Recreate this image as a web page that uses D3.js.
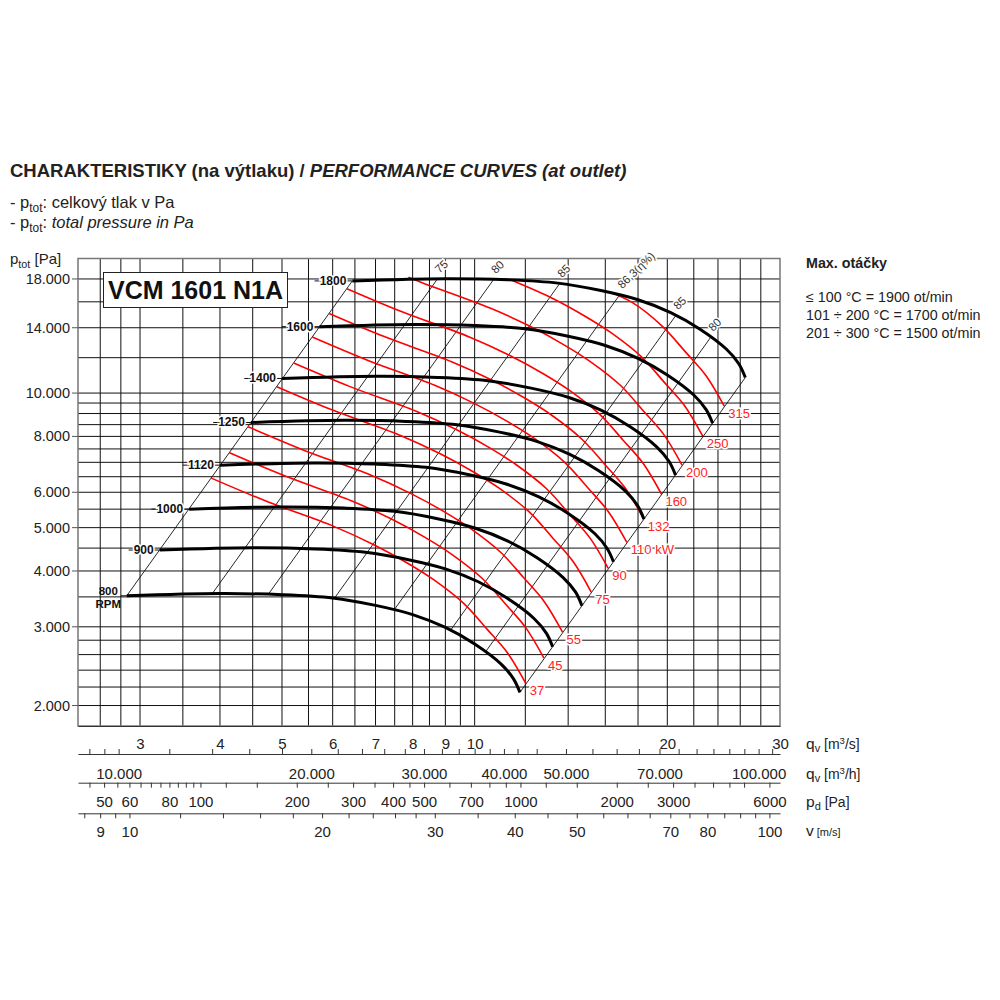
<!DOCTYPE html>
<html>
<head>
<meta charset="utf-8">
<script src="https://cdn.jsdelivr.net/npm/d3@7"></script>
<style>
body { margin: 0; background: #fff; }
text { font-family: "Liberation Sans", Arial, sans-serif; }
</style>
</head>
<body>
<div id="chart"></div>
<script>
// fan curves per speed: [q m3/s, ptot Pa]
var curve800 = [[2.86,3520],[4,3560],[5,3540],[6,3480],[7,3350],[8,3195],[9,2990],[10,2745],[11,2475],[11.5,2295],[11.77,2140]];
var curve900 = [[3.22,4455],[4.5,4506],[5.63,4480],[6.75,4404],[7.88,4240],[9,4044],[10.13,3784],[11.25,3474],[12.38,3132],[12.94,2905],[13.24,2708]];
var curve1000 = [[3.58,5500],[5,5563],[6.25,5531],[7.5,5438],[8.75,5234],[10,4992],[11.25,4672],[12.5,4289],[13.75,3867],[14.38,3586],[14.71,3344]];
var curve1120 = [[4.0,6899],[5.6,6978],[7.0,6938],[8.4,6821],[9.8,6566],[11.2,6262],[12.6,5860],[14,5380],[15.4,4851],[16.1,4498],[16.48,4194]];
var curve1250 = [[4.47,8594],[6.25,8691],[7.81,8643],[9.38,8496],[10.94,8179],[12.5,7800],[14.06,7300],[15.63,6702],[17.19,6043],[17.97,5603],[18.39,5225]];
var curve1400 = [[5.0,10780],[7,10903],[8.75,10841],[10.5,10658],[12.25,10259],[14,9785],[15.75,9157],[17.5,8407],[19.25,7580],[20.13,7028],[20.6,6554]];
var curve1600 = [[5.72,14080],[8,14240],[10,14160],[12,13920],[14,13400],[16,12780],[18,11960],[20,10980],[22,9900],[23,9180],[23.54,8560]];
var curve1800 = [[6.44,17820],[9,18023],[11.25,17921],[13.5,17618],[15.75,16959],[18,16175],[20.25,15137],[22.5,13897],[24.75,12530],[25.88,11618],[26.48,10834]];
var speeds = [800, 900, 1000, 1120, 1250, 1400, 1600, 1800];
var fanCurves = [curve800, curve900, curve1000, curve1120, curve1250, curve1400, curve1600, curve1800];

// shaft power lines (kW)
var power37 = [[3.877,6453],[4.738,5721],[6.023,5033],[6.956,4580],[7.847,4169],[8.627,3825],[9.622,3381],[10.47,2957],[11.25,2625],[12.02,2241]];
var power45 = [[4.139,7354],[5.058,6520],[6.43,5736],[7.426,5219],[8.377,4751],[9.209,4359],[10.27,3853],[11.18,3370],[12.01,2991],[12.83,2554]];
var power55 = [[4.425,8406],[5.407,7452],[6.874,6556],[7.939,5966],[8.956,5431],[9.846,4982],[10.98,4404],[11.95,3852],[12.84,3419],[13.72,2919]];
var power75 = [[4.907,10336],[5.996,9163],[7.623,8061],[8.804,7336],[9.931,6678],[10.92,6127],[12.18,5415],[13.25,4736],[14.24,4205],[15.21,3589]];
var power90 = [[5.215,11675],[6.373,10351],[8.102,9106],[9.357,8287],[10.56,7543],[11.6,6921],[12.94,6117],[14.08,5350],[15.13,4749],[16.17,4055]];
var power110 = [[5.575,13344],[6.813,11830],[8.661,10408],[10.0,9471],[11.28,8621],[12.41,7910],[13.84,6992],[15.06,6115],[16.18,5428],[17.29,4634]];
var power132 = [[5.924,15068],[7.24,13359],[9.204,11753],[10.63,10695],[11.99,9735],[13.18,8932],[14.7,7895],[16.0,6905],[17.19,6130],[18.37,5233]];
var power160 = [[6.315,17122],[7.718,15180],[9.811,13354],[11.33,12152],[12.78,11062],[14.05,10149],[15.67,8971],[17.06,7846],[18.33,6965],[19.58,5946]];
var power200 = [[7.88,18150],[8.314,17617],[10.57,15498],[12.21,14103],[13.77,12838],[15.14,11778],[16.89,10411],[18.37,9106],[19.74,8083],[21.09,6901]];
var power250 = [[11.3,18000],[13.15,16365],[14.83,14897],[16.31,13668],[18.19,12081],[19.79,10566],[21.27,9380],[22.72,8008]];
var power315 = [[16.2,16850],[17.62,15953],[19.65,14101],[21.38,12333],[22.98,10948],[24.55,9346]];
var powerLines = [power37, power45, power55, power75, power90, power110, power132, power160, power200, power250, power315];
var powerLabels = ["37", "45", "55", "75", "90", "110 kW", "132", "160", "200", "250", "315"];

// efficiency lines, from 800 rpm curve up to 1800 rpm curve
var effLabels = ["75", "80", "85", "86,3(\u03b7%)", "85", "80"];
var effBottom = [[3.89,3558],[4.76,3548],[6.04,3478],[7.5,3287],[9.17,2948],[10.4,2637]];
var effTop = [[8.75,18012],[10.71,17962],[13.59,17607],[16.88,16640],[20.63,14924],[23.4,13350]];
var leftEdge = [[2.86,3520],[6.44,17820]];
var rightEdge = [[11.77,2140],[26.48,10834]];

// grid and axes
var qGrid = [2.6,2.8,3,3.5,4,4.5,5,5.5,6,6.5,7,7.5,8,8.5,9,9.5,10,12,14,16,18,20,22,24,26,28];
var pGrid = [2000,2200,2400,2600,2800,3000,3500,4000,4500,5000,5500,6000,6500,7000,7500,8000,8500,9000,9500,10000,12000,14000,16000,18000];
var qLabels = [3,4,5,6,7,8,9,10,20,30];
var pLabels = [2000,3000,4000,5000,6000,8000,10000,14000,18000];
var qhTicks = [9000,9500,10000,12000,14000,16000,18000,20000,22000,24000,26000,28000,30000,32000,34000,36000,38000,40000,42000,45000,50000,55000,60000,65000,70000,75000,80000,85000,90000,95000,100000,105000];
var qhLabels = [10000,20000,30000,40000,50000,70000,100000];
var pdTicks = [45,50,55,60,65,70,75,80,85,90,95,100,120,150,200,250,300,350,400,450,500,600,700,800,900,1000,1200,1500,2000,2500,3000,3500,4000,4500,5000,6000];
var pdLabels = [50,60,80,100,200,300,400,500,700,1000,2000,3000,6000];
var vTicks = [8.5,9,9.5,10,12,14,16,18,20,22,24,26,28,30,35,40,45,50,55,60,65,70,75,80,85,90,95,100];
var vLabels = [9,10,20,30,40,50,70,80,100];

var ductArea = 0.2888; // m2, outlet
var airDensity = 1.2;

var svg = d3.select("#chart").append("svg").attr("width", 1000).attr("height", 1000);

var x = d3.scaleLog().domain([2.4, 30]).range([78, 780]);
var y = d3.scaleLog().domain([1800, 20000]).range([726, 258.5]);

var fmt = d3.formatLocale({decimal: ",", thousands: ".", grouping: [3], currency: ["", ""]}).format(",");

var line = d3.line().x(d => x(d[0])).y(d => y(d[1])).curve(d3.curveCatmullRom.alpha(0.5));
var straight = d3.line().x(d => x(d[0])).y(d => y(d[1]));

// grid
var grid = svg.append("g").attr("stroke", "#111").attr("stroke-width", 1);
grid.selectAll(".vg").data(qGrid).enter().append("line")
    .attr("x1", d => x(d)).attr("x2", d => x(d))
    .attr("y1", y(20000)).attr("y2", y(1800));
grid.selectAll(".hg").data(pGrid).enter().append("line")
    .attr("x1", x(2.4)).attr("x2", x(30))
    .attr("y1", d => y(d)).attr("y2", d => y(d));

// frame
svg.append("rect").attr("x", x(2.4)).attr("y", y(20000))
    .attr("width", x(30) - x(2.4)).attr("height", y(1800) - y(20000))
    .attr("fill", "none").attr("stroke", "#777").attr("stroke-width", 1.5);

// y axis labels
svg.selectAll(".ytick").data(pLabels).enter().append("line")
    .attr("x1", 72).attr("x2", 78).attr("y1", d => y(d)).attr("y2", d => y(d))
    .attr("stroke", "#555");
svg.selectAll(".ylab").data(pLabels).enter().append("text")
    .attr("x", 70).attr("y", d => y(d) + 5)
    .attr("text-anchor", "end").attr("font-size", 14.5).attr("fill", "#222")
    .text(d => fmt(d));

// efficiency lines and boundaries
var eff = svg.append("g").attr("stroke", "#111").attr("stroke-width", 0.9).attr("fill", "none");
effBottom.forEach(function(b, i) {
    eff.append("path").attr("d", straight([b, effTop[i]]));
});
eff.append("path").attr("d", straight(leftEdge));
eff.append("path").attr("d", straight(rightEdge));

effTop.forEach(function(t, i) {
    svg.append("text")
        .attr("transform", `translate(${x(t[0]) + 2}, ${y(t[1]) - 5}) rotate(-44)`)
        .attr("font-size", 11.5).attr("fill", "#333")
        .attr("stroke", "#fff").attr("stroke-width", 3).attr("paint-order", "stroke")
        .text(effLabels[i]);
});

// power lines
powerLines.forEach(function(pl, i) {
    svg.append("path").attr("d", line(pl))
        .attr("fill", "none").attr("stroke", "#f00").attr("stroke-width", 1.6);
    var end = pl[pl.length - 1];
    svg.append("text")
        .attr("x", x(end[0]) + 4).attr("y", y(end[1]) + 12)
        .attr("font-size", 13).attr("fill", "#f22")
        .attr("stroke", "#fff").attr("stroke-width", 3).attr("paint-order", "stroke")
        .text(powerLabels[i]);
});

// fan curves with speed labels
fanCurves.forEach(function(c, i) {
    var sx = x(c[0][0]), sy = y(c[0][1]);
    if (speeds[i] == 800) {
        svg.append("line").attr("x1", sx - 6).attr("x2", sx).attr("y1", sy).attr("y2", sy).attr("stroke", "#111");
        svg.append("text").attr("x", sx - 18.5).attr("y", sy - 1).attr("text-anchor", "middle")
            .attr("font-size", 11.5).attr("font-weight", "bold").attr("fill", "#111").text("800");
        svg.append("text").attr("x", sx - 18.5).attr("y", sy + 12).attr("text-anchor", "middle")
            .attr("font-size", 11.5).attr("font-weight", "bold").attr("fill", "#111").text("RPM");
    } else {
        var lab = svg.append("text").attr("x", sx - 6).attr("y", sy + 4).attr("text-anchor", "end")
            .attr("font-size", 12).attr("font-weight", "bold").attr("fill", "#111")
            .text(speeds[i]);
        var w = lab.node().getComputedTextLength();
        svg.insert("line", "text").attr("x1", sx - w - 11).attr("x2", sx).attr("y1", sy).attr("y2", sy).attr("stroke", "#111");
        lab.attr("stroke", "#fff").attr("stroke-width", 3).attr("paint-order", "stroke");
        lab.raise();
    }
    svg.append("path").attr("d", line(c))
        .attr("fill", "none").attr("stroke", "#000").attr("stroke-width", 3);
});

// type box
svg.append("rect").attr("x", 103.5).attr("y", 272.5).attr("width", 184).attr("height", 35)
    .attr("fill", "#fff").attr("stroke", "#222").attr("stroke-width", 1);
svg.append("text").attr("x", 195.5).attr("y", 299).attr("text-anchor", "middle")
    .attr("font-size", 25).attr("font-weight", "bold").attr("fill", "#111").text("VCM 1601 N1A");

// bottom scales
var xh = d3.scaleLog().domain([2.4 * 3600, 30 * 3600]).range(x.range());
var xv = d3.scaleLog().domain([2.4 / ductArea, 30 / ductArea]).range(x.range());
var vMin = 2.4 / ductArea, vMax = 30 / ductArea;
var xpd = d3.scaleLog().domain([0.5 * airDensity * vMin * vMin, 0.5 * airDensity * vMax * vMax]).range(x.range());

function bottomScale(scale, yPos, ticks, labels, tick, pad, format) {
    var g = svg.append("g").attr("transform", `translate(0, ${yPos})`).attr("color", "#333");
    g.call(d3.axisBottom(scale).tickValues(ticks).tickSize(tick).tickSizeOuter(0).tickFormat(""));
    var lg = svg.append("g").attr("transform", `translate(0, ${yPos})`);
    lg.call(d3.axisBottom(scale).tickValues(labels).tickSize(0).tickPadding(pad).tickFormat(format));
    lg.select(".domain").remove();
    lg.selectAll("text").attr("font-size", 15).attr("fill", "#222")
        .attr("font-family", "'Liberation Sans', Arial, sans-serif");
}
bottomScale(x, 726, qGrid, qLabels, 0, 12.5, d => d);
bottomScale(xh, 754, qhTicks, qhLabels, -5, 14, d => fmt(d));
bottomScale(xpd, 782.7, pdTicks, pdLabels, 5, 14, d => d);
bottomScale(xv, 813.3, vTicks, vLabels, 5, 12.7, d => d);

// axis names on the right
function unitLabel(yPos, parts) {
    var t = svg.append("text").attr("x", 806).attr("y", yPos).attr("font-size", 15).attr("fill", "#222");
    parts.forEach(function(p) {
        t.append("tspan").attr("font-size", p[1]).attr("dy", p[2]).text(p[0]);
    });
}
unitLabel(749, [["q", 15.5, 0], ["v", 11, 3], [" [m", 14, -3], ["3", 9.5, -5], ["/s]", 14, 5]]);
unitLabel(778.5, [["q", 15.5, 0], ["v", 11, 3], [" [m", 14, -3], ["3", 9.5, -5], ["/h]", 14, 5]]);
unitLabel(807, [["p", 15.5, 0], ["d", 11, 3], [" [Pa]", 14, -3]]);
unitLabel(836, [["v", 15.5, 0], [" [m/s]", 11, 0]]);

// header texts
var title = svg.append("text").attr("x", 10).attr("y", 177).attr("font-size", 18.5).attr("font-weight", "bold").attr("fill", "#222");
title.append("tspan").text("CHARAKTERISTIKY (na výtlaku) / ");
title.append("tspan").attr("font-style", "italic").text("PERFORMANCE CURVES (at outlet)");

function ptotLine(yPos, size, rest, italic) {
    var t = svg.append("text").attr("x", 10).attr("y", yPos).attr("font-size", size).attr("fill", "#222");
    t.append("tspan").text(rest[0]);
    t.append("tspan").attr("font-size", size * 0.72).attr("dy", 4).text("tot");
    t.append("tspan").attr("dy", -4).text(rest[1]);
    if (rest[2]) t.append("tspan").attr("font-style", italic ? "italic" : null).text(rest[2]);
}
ptotLine(208, 16.5, ["- p", ": celkový tlak v Pa"]);
ptotLine(228, 16.5, ["- p", ": ", "total pressure in Pa"], true);
ptotLine(264, 15, ["p", " [Pa]"]);

var info = svg.append("g").attr("fill", "#222").attr("font-size", 14.3);
info.append("text").attr("x", 806).attr("y", 268).attr("font-weight", "bold").text("Max. otáčky");
info.append("text").attr("x", 806).attr("y", 302).text("\u2264 100 °C = 1900 ot/min");
info.append("text").attr("x", 806).attr("y", 320).text("101 \u00f7 200 °C = 1700 ot/min");
info.append("text").attr("x", 806).attr("y", 338).text("201 \u00f7 300 °C = 1500 ot/min");
</script>
</body>
</html>
